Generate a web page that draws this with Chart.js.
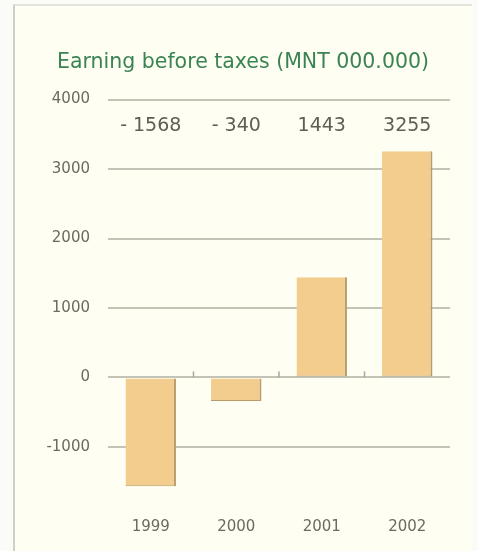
<!DOCTYPE html>
<html>
<head>
<meta charset="utf-8">
<script src="https://cdn.jsdelivr.net/npm/chart.js@4/dist/chart.umd.min.js"></script>
<style>
  html, body { margin: 0; padding: 0; background: #fbfbf8; }
  #wrap { position: relative; width: 478px; height: 551px; background: #fbfbf8; }
  #frame { position: absolute; left: 13px; top: 4px; right: 6px; bottom: -2px;
           background: #fefef3;
           border-left: 2px solid #d0d0c6; border-top: 2px solid #e4e4dc; }
  canvas { position: absolute; left: 0; top: 0; }
</style>
</head>
<body>
<div id="wrap">
  <div id="frame"></div>
  <canvas id="earnings" width="478" height="551"></canvas>
</div>
<script>
/* Earning before taxes */
const years = ["1999", "2000", "2001", "2002"];
const earnings = [-1568, -340, 1443, 3255];
const yTicks = [-1000, 0, 1000, 2000, 3000, 4000];

const labelFont = "'DejaVu Sans', sans-serif";

/* value row above the bars + small ticks on the zero line */
const valueRow = {
    id: "valueRow",
    afterDatasetsDraw(chart) {
        const ctx = chart.ctx;
        const x = chart.scales.x;
        const y = chart.scales.y;
        const rowY = y.getPixelForValue(3620);
        ctx.save();
        ctx.font = "19px " + labelFont;
        ctx.fillStyle = "#5e5e54";
        ctx.textAlign = "center";
        ctx.textBaseline = "middle";
        earnings.forEach((v, i) => {
            const txt = v < 0 ? "- " + Math.abs(v) : String(v);
            ctx.fillText(txt, x.getPixelForTick(i), rowY);
        });
        // little marks between categories on the zero line
        const zero = y.getPixelForValue(0);
        const step = x.getPixelForTick(1) - x.getPixelForTick(0);
        ctx.strokeStyle = "#a8a89a";
        ctx.lineWidth = 1.5;
        for (let i = 0; i < years.length - 1; i++) {
            const bx = x.getPixelForTick(i) + step / 2;
            ctx.beginPath();
            ctx.moveTo(bx, zero);
            ctx.lineTo(bx, zero - 6);
            ctx.stroke();
        }
        ctx.restore();
    }
};

const ctxEarnings = document.getElementById("earnings").getContext("2d");
const earningsChart = new Chart(ctxEarnings, {
    type: "bar",
    data: {
        labels: years,
        datasets: [
            {
                label: "Earning before taxes",
                data: earnings,
                backgroundColor: "#f3cd8e",
                borderColor: "#b89c6c",
                borderWidth: { right: 2, bottom: 1 },
                borderSkipped: false,
                barPercentage: 0.59,
                categoryPercentage: 1,
            },
        ],
    },
    options: {
        responsive: false,
        animation: false,
        layout: { padding: { left: 36, right: 28, top: 0, bottom: 0 } },
        plugins: {
            legend: { display: false },
            tooltip: { enabled: false },
            title: {
                display: true,
                text: "Earning before taxes (MNT 000.000)",
                color: "#3a8452",
                font: { family: labelFont, size: 20.5, weight: "normal" },
                padding: { top: 50, bottom: 25 },
            },
        },
        scales: {
            x: {
                grid: { display: false },
                border: { display: false },
                ticks: { color: "#6a6a60", font: { family: labelFont, size: 15 }, padding: 18 },
                afterFit(s) { s.height = 59; },
            },
            y: {
                min: -1650,
                max: 4000,
                afterBuildTicks(s) { s.ticks = yTicks.map(v => ({ value: v })); },
                grid: { color: "#c4c4b6", lineWidth: 2, drawTicks: false },
                border: { display: false },
                ticks: {
                    color: "#6a6a60",
                    font: { family: labelFont, size: 15 },
                    padding: 18,
                    callback: (v) => String(v),
                },
                afterFit(s) { s.width = 72; },
            },
        },
    },
    plugins: [valueRow],
});
</script>
</body>
</html>
